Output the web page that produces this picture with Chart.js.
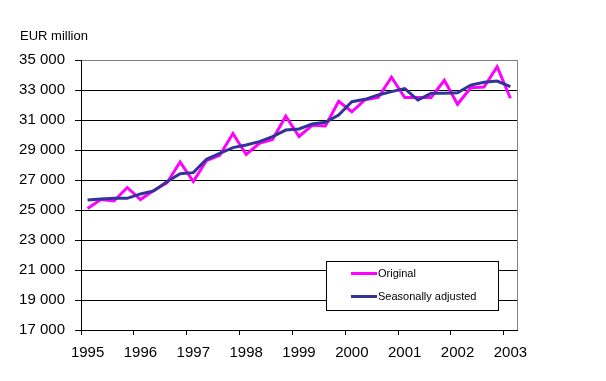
<!DOCTYPE html>
<html>
<head>
<meta charset="utf-8">
<script src="https://cdn.jsdelivr.net/npm/chart.js@4.4.0/dist/chart.umd.min.js"></script>
<style>
html,body{margin:0;padding:0;background:#fff;}
#wrap{width:606px;height:381px;position:relative;}
</style>
</head>
<body>
<div id="wrap"><canvas id="c" width="606" height="381"></canvas></div>
<script>
const quarters = [
  '1995Q1','1995Q2','1995Q3','1995Q4',
  '1996Q1','1996Q2','1996Q3','1996Q4',
  '1997Q1','1997Q2','1997Q3','1997Q4',
  '1998Q1','1998Q2','1998Q3','1998Q4',
  '1999Q1','1999Q2','1999Q3','1999Q4',
  '2000Q1','2000Q2','2000Q3','2000Q4',
  '2001Q1','2001Q2','2001Q3','2001Q4',
  '2002Q1','2002Q2','2002Q3','2002Q4',
  '2003Q1'
];
const yearLabels = ['1995','1996','1997','1998','1999','2000','2001','2002','2003'];
const original = [25100, 25700, 25600, 26500, 25700, 26300, 26800, 28200,
                  26900, 28300, 28650, 30100, 28700, 29450, 29700, 31250,
                  29900, 30650, 30600, 32250, 31550, 32350, 32500, 33850,
                  32500, 32500, 32500, 33650, 32050, 33150, 33200, 34550,
                  32450];
const seasonallyAdjusted = [25670, 25730, 25780, 25780, 26070, 26270, 26890, 27420,
                            27490, 28380, 28780, 29160, 29330, 29560, 29890, 30330,
                            30400, 30730, 30850, 31330, 32220, 32380, 32670, 32890,
                            33090, 32330, 32780, 32780, 32820, 33330, 33510, 33600,
                            33220];
const yTickValues = [17000, 19000, 21000, 23000, 25000, 27000, 29000, 31000, 33000, 35000];
const yTickLabels = ['17 000','19 000','21 000','23 000','25 000','27 000','29 000','31 000','33 000','35 000'];
const unitLabel = 'EUR million';

const FONT = '"Liberation Sans", Arial, sans-serif';
const MAGENTA = '#FF00FF';
const NAVY = '#333399';

const decorPlugin = {
  id: 'decor',
  beforeDatasetsDraw(chart) {
    const {ctx, chartArea} = chart;
    ctx.save();
    ctx.strokeStyle = '#808080';
    ctx.lineWidth = 1;
    ctx.beginPath();
    const x = Math.round(chartArea.right) + 0.5;
    ctx.moveTo(x, chartArea.top);
    ctx.lineTo(x, chartArea.bottom);
    ctx.stroke();
    ctx.restore();
  },
  afterDraw(chart) {
    const {ctx} = chart;
    ctx.save();
    // unit label
    ctx.fillStyle = '#000';
    ctx.font = '13px ' + FONT;
    ctx.textAlign = 'left';
    ctx.textBaseline = 'middle';
    ctx.fillText(unitLabel, 20, 36);
    // legend box
    const bx = 326.5, by = 261.5, bw = 172, bh = 49;
    ctx.fillStyle = '#fff';
    ctx.fillRect(bx, by, bw, bh);
    ctx.strokeStyle = '#000';
    ctx.lineWidth = 1;
    ctx.strokeRect(bx, by, bw, bh);
    const rows = [273.5, 296.5];
    chart.data.datasets.forEach((ds, i) => {
      const y = rows[i];
      ctx.strokeStyle = ds.borderColor;
      ctx.lineWidth = 3;
      ctx.beginPath();
      ctx.moveTo(351, y);
      ctx.lineTo(377, y);
      ctx.stroke();
      ctx.fillStyle = '#000';
      ctx.font = '11px ' + FONT;
      ctx.textBaseline = 'middle';
      ctx.fillText(ds.label, 378, y);
    });
    ctx.restore();
  }
};

new Chart(document.getElementById('c'), {
  type: 'line',
  data: {
    labels: quarters,
    datasets: [
      {
        label: 'Original',
        data: original,
        borderColor: MAGENTA,
        backgroundColor: MAGENTA,
        borderWidth: 3,
        pointRadius: 0,
        tension: 0,
        borderJoinStyle: 'miter',
        fill: false,
        order: 1
      },
      {
        label: 'Seasonally adjusted',
        data: seasonallyAdjusted,
        borderColor: NAVY,
        backgroundColor: NAVY,
        borderWidth: 3,
        pointRadius: 0,
        tension: 0,
        borderJoinStyle: 'miter',
        fill: false,
        order: 0
      }
    ]
  },
  options: {
    responsive: false,
    animation: false,
    devicePixelRatio: 1,
    layout: { padding: { left: 0, right: 89, top: 60, bottom: 0 } },
    plugins: {
      legend: { display: false },
      tooltip: { enabled: false },
      title: { display: false }
    },
    scales: {
      x: {
        type: 'category',
        offset: true,
        afterFit(scale) { scale.height = 51; },
        grid: {
          offset: true,
          drawOnChartArea: false,
          drawTicks: true,
          tickLength: 5,
          lineWidth: 1,
          tickColor: (c) => (c.index !== undefined && c.index % 4 === 0) ? '#000' : 'rgba(0,0,0,0)'
        },
        border: { color: '#000', width: 1 },
        ticks: {
          autoSkip: false,
          maxRotation: 0,
          minRotation: 0,
          padding: 9,
          color: '#000',
          font: { family: FONT, size: 15 },
          callback: (v, i) => (i % 4 === 0 ? yearLabels[i / 4] : '')
        }
      },
      y: {
        min: 17000,
        max: 35000,
        afterFit(scale) { scale.width = 81; },
        afterBuildTicks(scale) { scale.ticks = yTickValues.map(v => ({ value: v })); },
        grid: {
          color: (c) => (c.tick && c.tick.value === 35000) ? '#808080' : '#000',
          tickColor: '#000',
          lineWidth: 1,
          drawTicks: true,
          tickLength: 6
        },
        border: { color: '#000', width: 1 },
        ticks: {
          padding: 10,
          color: '#000',
          font: { family: FONT, size: 15 },
          callback: (v) => yTickLabels[yTickValues.indexOf(v)]
        }
      }
    }
  },
  plugins: [decorPlugin]
});
</script>
</body>
</html>
